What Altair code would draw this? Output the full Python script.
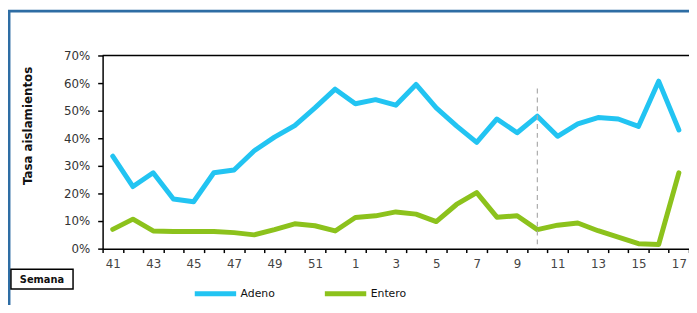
import altair as alt
import pandas as pd

weeks = ["41", "42", "43", "44", "45", "46", "47", "48", "49", "50", "51", "52",
         "1", "2", "3", "4", "5", "6", "7", "8", "9", "10", "11", "12", "13", "14", "15", "16", "17"]
adeno = [33.5, 22.5, 27.5, 18.0, 17.0, 27.5, 28.5, 35.5, 40.4, 44.6, 51.0, 57.8,
         52.5, 54.0, 52.0, 59.5, 51.0, 44.5, 38.5, 47.0, 42.0, 48.0, 40.7, 45.2, 47.5, 47.0, 44.3, 60.7, 43.0]
entero = [7.0, 10.7, 6.4, 6.2, 6.2, 6.2, 5.8, 5.0, 6.9, 9.0, 8.3, 6.4,
          11.3, 11.9, 13.3, 12.5, 9.8, 16.0, 20.3, 11.4, 11.9, 6.9, 8.5, 9.3, 6.5, 4.2, 1.8, 1.5, 27.5]
series_names = ["Adeno", "Entero"]
series_colors = ["#22C4F2", "#8CC21C"]
marker_week = ["10"]
marker_top = [58.0]
y_ticks = [0, 0.1, 0.2, 0.3, 0.4, 0.5, 0.6, 0.7]

rows = []
for i, w in enumerate(weeks):
    rows.append({"semana": w, "serie": "Adeno", "tasa": adeno[i] / 100})
    rows.append({"semana": w, "serie": "Entero", "tasa": entero[i] / 100})
df = pd.DataFrame(rows)
marker_df = pd.DataFrame({"semana": marker_week, "tasa": [v / 100 for v in marker_top], "bottom": [0.0]})

W, H = 595, 196
FONT = "DejaVu Sans"

xscale = alt.Scale(type="band", domain=weeks, paddingInner=0, paddingOuter=0)
yscale = alt.Scale(domain=[0, 0.7])

x_axis = alt.Axis(title=None, tickBand="extent", bandPosition=0.5, labelAngle=0,
                  labelExpr="toNumber(datum.value) % 2 == 1 ? datum.label : ''",
                  labelOverlap=False,
                  domainColor="black", domainWidth=1.5, tickColor="black",
                  tickSize=4, tickWidth=1.5, labelPadding=6,
                  labelFont=FONT, labelFontSize=12, labelColor="#444")
y_axis = alt.Axis(title="Tasa aislamientos", values=y_ticks, format=".0%", grid=False,
                  labelOverlap=False, labelFlush=False,
                  domainColor="black", domainWidth=1.5, tickColor="black",
                  tickSize=5, tickWidth=1.5, labelPadding=8,
                  labelFont=FONT, labelFontSize=12, labelColor="#333",
                  titleFont=FONT, titleFontSize=12, titleFontWeight="bold",
                  titleColor="#111", titleX=-69, titleY=71)

lines = alt.Chart(df).mark_line(strokeWidth=5, strokeJoin="round", strokeCap="round").encode(
    x=alt.X("semana:N", scale=xscale, sort=weeks, axis=x_axis),
    y=alt.Y("tasa:Q", scale=yscale, axis=y_axis),
    color=alt.Color("serie:N", scale=alt.Scale(domain=series_names, range=series_colors),
                    legend=alt.Legend(title=None, orient="none", legendX=91, legendY=218,
                                      direction="horizontal", symbolType="stroke",
                                      symbolSize=1764, symbolStrokeWidth=5, labelOffset=2,
                                      columnPadding=40, padding=0,
                                      labelFont=FONT, labelFontSize=11, labelColor="#111")),
)

marker = alt.Chart(marker_df).mark_rule(color="#aaaaaa", strokeDash=[5, 4], strokeWidth=1.2).encode(
    x=alt.X("semana:N", scale=xscale, sort=weeks, axis=x_axis),
    y=alt.Y("tasa:Q", scale=yscale, axis=y_axis), y2="bottom:Q")

top_line = alt.Chart(marker_df).mark_rule(color="black", strokeWidth=1.5).encode(
    x=alt.value(0), x2=alt.value(W), y=alt.value(0))

frame = alt.Chart(marker_df).mark_rect(fill=None, stroke="#2E6DA4", strokeWidth=3).encode(
    x=alt.value(-95), x2=alt.value(W + 20), y=alt.value(-45), y2=alt.value(H + 90))

semana_box = alt.Chart(marker_df).mark_rect(fill="white", stroke="black", strokeWidth=1.5).encode(
    x=alt.value(-93), x2=alt.value(-30), y=alt.value(217), y2=alt.value(237))

semana_text = alt.Chart(marker_df).mark_text(text="Semana", font=FONT, fontSize=10, fontWeight="bold",
                                             color="#111", align="center", baseline="middle").encode(
    x=alt.value(-61.5), y=alt.value(227.5))

chart = alt.layer(frame, top_line, lines, marker, semana_box, semana_text).properties(
    width=W, height=H,
    autosize=alt.AutoSizeParams(type="none"),
    padding={"left": 96, "top": 46, "right": 0, "bottom": 55},
    background="white",
).configure_view(stroke=None)

chart.save("out.html", embed_options={"renderer": "svg", "actions": False})
